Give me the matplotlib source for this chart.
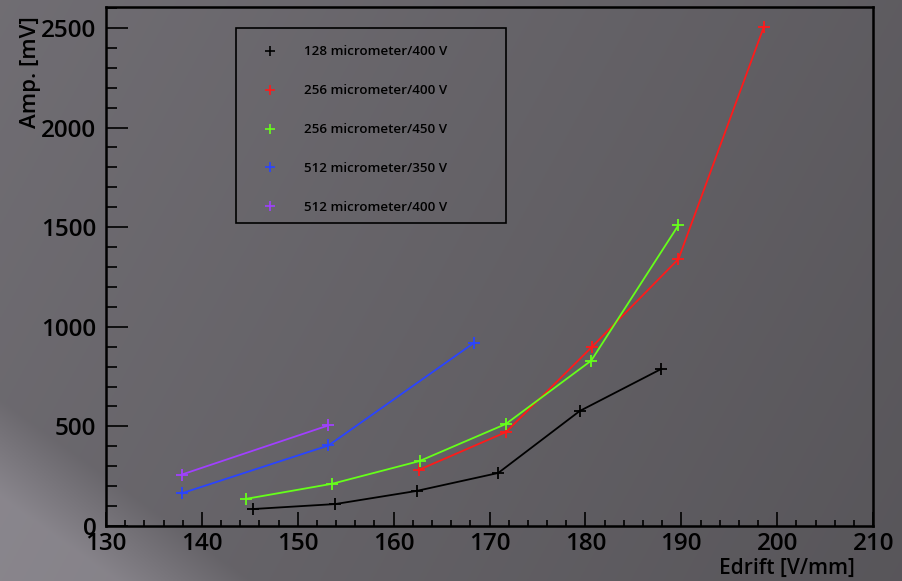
# drift field scan - amplitude vs Edrift

import numpy as np
import matplotlib.pyplot as plt
from matplotlib.patches import Rectangle
from matplotlib.ticker import MultipleLocator

labels = ['128 micrometer/400 V', '256 micrometer/400 V', '256 micrometer/450 V',
          '512 micrometer/350 V', '512 micrometer/400 V']
colors = ['#000000', '#ff1a1a', '#66ff1a', '#2a44ff', '#a040ff']

edrift_128_400 = [145.3, 153.9, 162.4, 170.9, 179.4, 187.9]
amp_128_400 = [85, 110, 176, 266, 577, 788]
edrift_256_400 = [162.6, 171.7, 180.7, 189.7, 198.6]
amp_256_400 = [281, 471, 900, 1340, 2505]
edrift_256_450 = [144.6, 153.6, 162.7, 171.7, 180.6, 189.7]
amp_256_450 = [136, 212, 326, 512, 830, 1510]
edrift_512_350 = [137.9, 153.2, 168.4]
amp_512_350 = [164, 404, 920]
edrift_512_400 = [137.9, 153.2]
amp_512_400 = [258, 505]

xs = [edrift_128_400, edrift_256_400, edrift_256_450, edrift_512_350, edrift_512_400]
ys = [amp_128_400, amp_256_400, amp_256_450, amp_512_350, amp_512_400]

plt.rcParams['font.family'] = ['Open Sans', 'DejaVu Sans']


def main():
    fig = plt.figure(figsize=(9.02, 5.81), dpi=100)

    # gray gradient background, lighter wedge at the bottom left
    bg = fig.add_axes([0, 0, 1, 1], zorder=-10)
    gy, gx = np.mgrid[0:1:300j, 0:1:450j]
    base = 0.415 - 0.07 * gx + 0.025 * gy
    light = np.clip((0.31 - gy - 1.12 * gx) * 6, 0, 1) * 0.12
    shade = base + light
    img = np.dstack([shade, shade * 0.975, shade * 1.025])
    bg.imshow(np.clip(img, 0, 1), extent=[0, 1, 0, 1], aspect='auto', origin='lower')
    bg.axis('off')

    ax = fig.add_axes([0.1175, 0.0947, 0.8505, 0.8933])
    ax.patch.set_alpha(0)

    for x, y, c, lab in zip(xs, ys, colors, labels):
        ax.plot(x, y, color=c, lw=1.3, marker='+', ms=8, mew=1.3, label=lab)

    ax.set_xlim(130, 210)
    ax.set_ylim(0, 2605)
    ax.xaxis.set_major_locator(MultipleLocator(10))
    ax.xaxis.set_minor_locator(MultipleLocator(2))
    ax.yaxis.set_major_locator(MultipleLocator(500))
    ax.yaxis.set_minor_locator(MultipleLocator(100))
    ax.tick_params(which='both', direction='in', top=False, right=False,
                   width=1.2, colors='black', labelsize=17.5)
    ax.tick_params(axis='y', which='major', length=16, pad=7)
    ax.tick_params(axis='y', which='minor', length=8)
    ax.tick_params(axis='x', which='major', length=10, pad=4)
    ax.tick_params(axis='x', which='minor', length=4.5)
    for t in ax.get_xticklabels() + ax.get_yticklabels():
        t.set_fontweight('semibold')
    for s in ax.spines.values():
        s.set_linewidth(1.8)

    fig.text(0.034, 0.972, 'Amp. [mV]', rotation=90, ha='center', va='top',
             fontsize=16, fontweight='semibold')
    fig.text(0.948, 0.004, 'Edrift [V/mm]', ha='right', va='bottom',
             fontsize=15, fontweight='semibold')

    # legend frame
    ax.add_patch(Rectangle((0.1695, 0.5838), 0.352, 0.3757, transform=ax.transAxes,
                           fill=False, edgecolor='black', lw=1.2))
    handles = [plt.Line2D([], [], color=c, ls='none', marker='+', ms=7, mew=1.2)
               for c in colors]
    ax.legend(handles, labels, loc='upper left', bbox_to_anchor=(0.2050, 0.9258),
              frameon=False, prop={'size': 9.6, 'weight': 'semibold'},
              labelspacing=1.94, handlelength=1.0, handletextpad=2.06,
              borderpad=0, borderaxespad=0)

    fig.savefig('out.png', dpi=100)


main()
